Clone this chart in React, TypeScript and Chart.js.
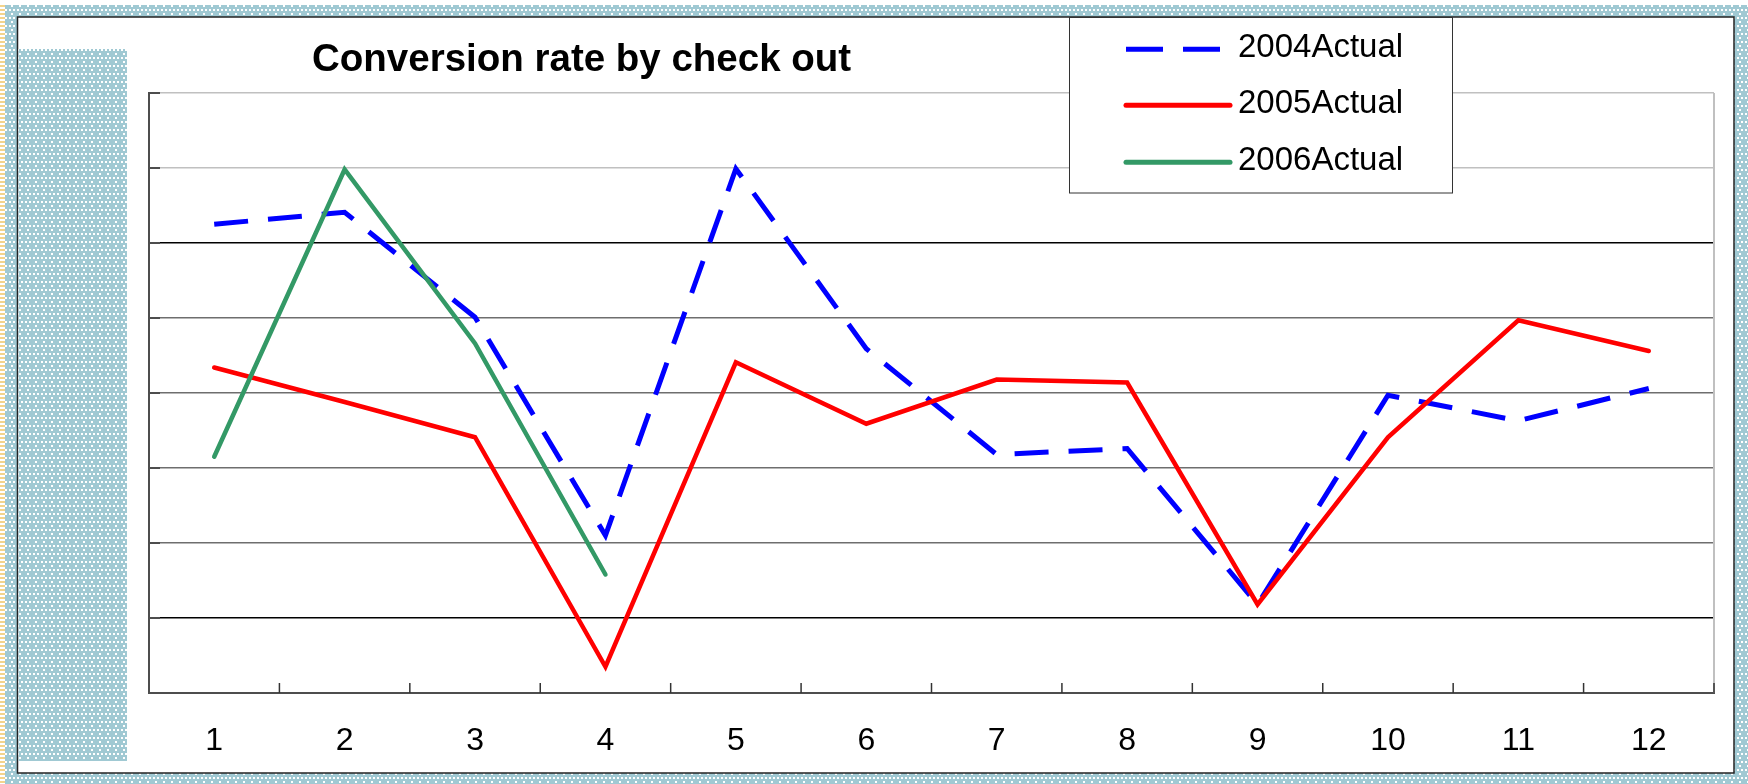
import React, { useEffect, useRef } from "react";
import { Chart, registerables } from "chart.js";

Chart.register(...registerables);

// ---- data ----
const months = ["1", "2", "3", "4", "5", "6", "7", "8", "9", "10", "11", "12"];
const actual2004 = [6.25, 6.41, 5.01, 2.1, 6.99, 4.59, 3.18, 3.26, 1.18, 3.97, 3.63, 4.06];
const actual2005 = [4.34, 3.88, 3.41, 0.35, 4.41, 3.59, 4.18, 4.14, 1.18, 3.41, 4.97, 4.56];
const actual2006 = [3.15, 6.98, 4.66, 1.58];
const seriesNames = ["2004Actual", "2005Actual", "2006Actual"];
const titleText = "Conversion rate by check out";
const yMin = 0;
const yMax = 8;
const yStep = 1;

const W = 1748;
const H = 784;
const FONT = '"Liberation Sans", Arial, sans-serif';

function gridColor(v: number): string {
  if (v === 0) return "#4d4d4d";
  if (v === 1 || v === 6) return "#000000";
  if (v >= 7) return "#c0c0c0";
  return "#6e6e6e";
}

function makePattern(ctx: CanvasRenderingContext2D): CanvasPattern | string {
  const c = document.createElement("canvas");
  c.width = 8;
  c.height = 8;
  const g = c.getContext("2d");
  if (!g) return "#a0c9d3";
  g.fillStyle = "#a0c9d3";
  g.fillRect(0, 0, 8, 8);
  g.fillStyle = "#ffffff";
  g.fillRect(1, 1, 2, 2);
  g.fillRect(5, 1, 2, 2);
  g.fillRect(3, 5, 2, 2);
  return ctx.createPattern(c, "repeat") || "#a0c9d3";
}

const decorPlugin = {
  id: "decor",
  beforeDraw(chart: any) {
    const ctx: CanvasRenderingContext2D = chart.ctx;
    const pat = makePattern(ctx);
    ctx.save();
    ctx.fillStyle = "#ffffff";
    ctx.fillRect(0, 0, W, H);
    ctx.fillStyle = pat;
    ctx.fillRect(5, 5, W - 5, H - 5);
    for (let y = 5; y < H; y += 4) {
      ctx.fillStyle = "#f3d48c";
      ctx.fillRect(0, y, 5, 2);
    }
    // white frame
    ctx.fillStyle = "#ffffff";
    ctx.fillRect(17.5, 17, 1734 - 17.5, 773 - 17);
    ctx.strokeStyle = "#222222";
    ctx.lineWidth = 1.5;
    ctx.strokeRect(17.5, 17, 1734 - 17.5, 773 - 17);
    // inner left band
    ctx.fillStyle = pat;
    ctx.fillRect(18.5, 49, 127 - 18.5, 761 - 49);
    // title
    ctx.fillStyle = "#000000";
    ctx.font = `bold 38.5px ${FONT}`;
    ctx.textAlign = "left";
    ctx.textBaseline = "alphabetic";
    ctx.fillText(titleText, 312, 70.7);
    ctx.restore();
  },
  beforeDatasetsDraw(chart: any) {
    const ctx: CanvasRenderingContext2D = chart.ctx;
    const area = chart.chartArea;
    const xs = chart.scales.x;
    const ys = chart.scales.y;
    ctx.save();
    // right border of plot
    ctx.strokeStyle = "#c0c0c0";
    ctx.lineWidth = 2;
    ctx.beginPath();
    ctx.moveTo(area.right, area.top);
    ctx.lineTo(area.right, area.bottom);
    ctx.stroke();
    // inward y ticks
    ctx.strokeStyle = "#4d4d4d";
    ctx.lineWidth = 2;
    for (let v = yMin; v <= yMax; v += yStep) {
      const py = ys.getPixelForValue(v);
      ctx.beginPath();
      ctx.moveTo(area.left, py);
      ctx.lineTo(area.left + 11, py);
      ctx.stroke();
    }
    // inward x ticks at category boundaries
    ctx.strokeStyle = "#333333";
    ctx.lineWidth = 1.5;
    const n = months.length;
    const step = (area.right - area.left) / n;
    for (let i = 1; i <= n; i++) {
      const px = xs.getPixelForValue(i - 1) + step / 2;
      ctx.beginPath();
      ctx.moveTo(px, area.bottom);
      ctx.lineTo(px, area.bottom - 10);
      ctx.stroke();
    }
    ctx.restore();
  },
  afterDatasetsDraw(chart: any) {
    const ctx: CanvasRenderingContext2D = chart.ctx;
    ctx.save();
    // legend box
    ctx.fillStyle = "#ffffff";
    ctx.fillRect(1069, 17, 1452 - 1069, 193 - 17);
    ctx.strokeStyle = "#333333";
    ctx.lineWidth = 1;
    ctx.strokeRect(1069.5, 17.5, 1452 - 1069, 193 - 17.5);
    const lineY = [49.3, 105.3, 162.3];
    const textY = [56.7, 113, 170];
    chart.data.datasets.forEach((ds: any, i: number) => {
      ctx.strokeStyle = ds.borderColor;
      ctx.lineWidth = 5;
      if (ds.borderDash && ds.borderDash.length) {
        ctx.setLineDash([37, 20]);
        ctx.lineCap = "butt";
        ctx.beginPath();
        ctx.moveTo(1126, lineY[i]);
        ctx.lineTo(1220, lineY[i]);
        ctx.stroke();
      } else {
        ctx.setLineDash([]);
        ctx.lineCap = "round";
        ctx.beginPath();
        ctx.moveTo(1126, lineY[i]);
        ctx.lineTo(1230, lineY[i]);
        ctx.stroke();
      }
      ctx.setLineDash([]);
      ctx.fillStyle = "#000000";
      ctx.font = `33px ${FONT}`;
      ctx.textAlign = "left";
      ctx.textBaseline = "alphabetic";
      ctx.fillText(ds.label, 1238, textY[i]);
    });
    ctx.restore();
  },
};

export default function App() {
  const ref = useRef<HTMLCanvasElement | null>(null);

  useEffect(() => {
    if (!ref.current) return;
    const chart = new Chart(ref.current, {
      type: "line",
      data: {
        labels: months,
        datasets: [
          {
            label: seriesNames[0],
            data: actual2004,
            borderColor: "#0000ff",
            backgroundColor: "#0000ff",
            borderWidth: 5,
            borderDash: [34, 20],
            borderCapStyle: "butt",
            pointRadius: 0,
            tension: 0,
            fill: false,
            order: 3,
          },
          {
            label: seriesNames[1],
            data: actual2005,
            borderColor: "#ff0000",
            backgroundColor: "#ff0000",
            borderWidth: 4.5,
            borderCapStyle: "round",
            pointRadius: 0,
            tension: 0,
            fill: false,
            order: 2,
          },
          {
            label: seriesNames[2],
            data: actual2006,
            borderColor: "#339966",
            backgroundColor: "#339966",
            borderWidth: 4.5,
            borderCapStyle: "round",
            pointRadius: 0,
            tension: 0,
            fill: false,
            order: 1,
          },
        ],
      },
      options: {
        responsive: false,
        animation: false,
        devicePixelRatio: 1,
        layout: { padding: { left: 149, top: 93, right: 34, bottom: 11 } },
        plugins: {
          legend: { display: false },
          title: { display: false },
          tooltip: { enabled: false },
        },
        scales: {
          x: {
            type: "category",
            offset: true,
            grid: { display: false, drawTicks: false },
            border: { display: true, color: "#4d4d4d", width: 2 },
            ticks: {
              color: "#000000",
              font: { family: FONT, size: 32 },
              padding: 29,
              maxRotation: 0,
              autoSkip: false,
            },
            afterFit: (s: any) => {
              s.height = 80;
            },
          },
          y: {
            min: yMin,
            max: yMax,
            ticks: { display: false, stepSize: yStep },
            grid: {
              color: (c: any) => gridColor(c.tick ? c.tick.value : 0),
              lineWidth: 1.5,
              drawTicks: false,
            },
            border: { display: true, color: "#4d4d4d", width: 2 },
            afterFit: (s: any) => {
              s.width = 0;
            },
          },
        },
      },
      plugins: [decorPlugin],
    } as any);
    return () => chart.destroy();
  }, []);

  return (
    <div style={{ position: "fixed", left: 0, top: 0, width: W, height: H }}>
      <canvas ref={ref} width={W} height={H} style={{ display: "block", width: W, height: H }} />
    </div>
  );
}
